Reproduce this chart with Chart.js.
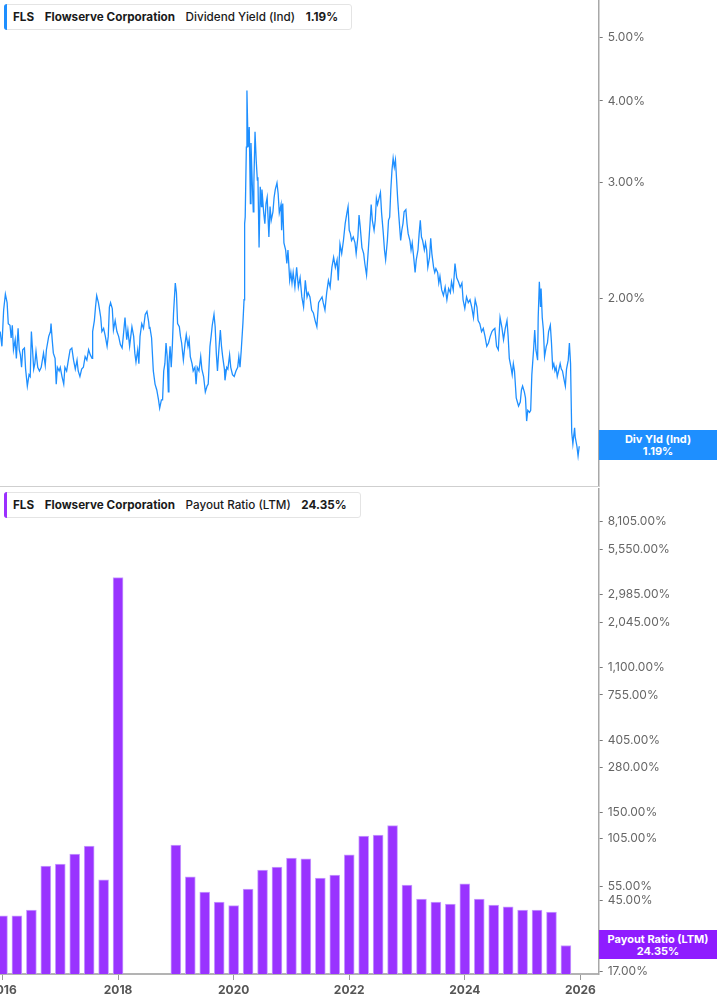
<!DOCTYPE html>
<html><head><meta charset="utf-8">
<script src="https://cdn.jsdelivr.net/npm/chart.js@4/dist/chart.umd.min.js"></script>
<style>
html,body{margin:0;padding:0;background:#fff;width:717px;height:1005px;overflow:hidden;font-family:Inter,"Noto Sans",sans-serif;}
#top{position:absolute;left:0;top:0;width:717px;height:487px;}
#bot{position:absolute;left:0;top:487px;width:717px;height:518px;}
.sep{position:absolute;left:0;top:486px;width:599px;height:1px;background:#cfcfcf;}
.legend{position:absolute;left:4px;height:26px;border:1px solid #e4e4e4;border-radius:3px;background:#fff;font-size:11.7px;color:#1a1a1a;display:flex;align-items:center;padding:0 13px 0 8px;box-sizing:border-box;white-space:nowrap;}
.legend .bar{position:absolute;left:-1px;top:-1px;bottom:-1px;width:3px;border-radius:3px 0 0 3px;}
.legend span{margin-right:10.5px;}
.legend span:last-child{margin-right:0;}
.b{font-weight:700;}
.m{font-weight:500;}
.tag{position:absolute;left:599px;width:118px;color:#fff;font-size:11px;font-weight:700;text-align:center;line-height:12px;display:flex;flex-direction:column;justify-content:center;}
</style>
</head>
<body>
<div id="top"><canvas id="c1"></canvas></div>
<div id="bot"><canvas id="c2"></canvas></div>
<div class="sep"></div>
<div class="legend" style="top:4px;"><div class="bar" style="background:#1e8fff"></div><span class="b">FLS</span><span class="b">Flowserve Corporation</span><span class="m">Dividend Yield (Ind)</span><span class="b">1.19%</span></div>
<div class="legend" style="top:492px;"><div class="bar" style="background:#9b30ff"></div><span class="b">FLS</span><span class="b">Flowserve Corporation</span><span class="m">Payout Ratio (LTM)</span><span class="b">24.35%</span></div>
<div class="tag" style="top:430px;height:30px;background:#1e8fff;"><div>Div Yld (Ind)</div><div>1.19%</div></div>
<div class="tag" style="top:930px;height:29px;background:#8f1cff;"><div>Payout Ratio (LTM)</div><div>24.35%</div></div>
<script>
const divDates = [
2015.96,2015.99,2016.02,2016.05,2016.08,2016.10,2016.13,2016.15,2016.17,2016.19,2016.22,2016.24,2016.27,2016.29,2016.31,2016.33,2016.35,2016.38,2016.40,2016.43,2016.46,2016.48,2016.50,2016.52,2016.54,2016.56,2016.58,2016.61,2016.64,2016.67,2016.71,2016.74,2016.76,2016.80,2016.83,2016.84,2016.86,2016.88,2016.91,2016.93,2016.95,2016.98,
2017.00,2017.03,2017.06,2017.08,2017.11,2017.14,2017.17,2017.20,2017.23,2017.26,2017.29,2017.31,2017.34,2017.37,2017.40,2017.43,2017.46,2017.49,2017.52,2017.55,2017.56,2017.59,2017.61,2017.63,2017.66,2017.68,2017.70,2017.72,2017.75,2017.78,2017.81,2017.83,2017.85,2017.87,2017.90,2017.92,2017.95,2017.98,
2018.01,2018.04,2018.07,2018.09,2018.12,2018.15,2018.17,2018.20,2018.22,2018.24,2018.27,2018.29,2018.31,2018.34,2018.36,2018.38,2018.41,2018.44,2018.47,2018.50,2018.53,2018.54,
2018.55,2018.58,2018.61,2018.64,2018.67,2018.70,2018.72,2018.75,2018.77,2018.79,2018.81,2018.83,2018.85,2018.87,2018.88,2018.90,2018.92,2018.94,2018.96,2018.99,
2019.01,2019.03,2019.06,2019.08,2019.10,2019.13,2019.16,2019.18,2019.21,2019.23,2019.25,2019.28,2019.30,2019.33,2019.35,2019.37,2019.40,2019.43,2019.45,2019.48,2019.51,2019.54,2019.56,2019.59,2019.61,2019.63,2019.66,2019.68,2019.70,2019.72,2019.74,2019.77,2019.79,2019.81,2019.84,2019.85,2019.88,2019.90,2019.93,2019.95,2019.98,
2020.01,2020.04,2020.07,2020.09,2020.11,2020.13,2020.16,2020.18,2020.19,2020.20,2020.22,2020.23,2020.25,2020.27,2020.29,2020.30,2020.32,2020.34,2020.35,2020.37,2020.39,2020.41,2020.42,2020.44,2020.46,2020.48,2020.49,2020.52,2020.54,2020.56,2020.58,2020.61,2020.63,2020.65,2020.68,2020.70,2020.72,2020.75,2020.77,2020.79,2020.82,2020.83,2020.85,2020.87,2020.90,2020.92,2020.94,2020.97,2020.99,
2021.01,2021.03,2021.06,2021.09,2021.12,2021.15,2021.18,2021.21,2021.24,2021.27,2021.29,2021.32,2021.35,2021.38,2021.41,2021.44,2021.47,2021.50,2021.53,2021.55,2021.58,2021.61,2021.64,2021.67,2021.70,2021.73,2021.76,2021.79,2021.81,2021.84,2021.87,2021.90,2021.93,2021.96,2021.98,
2022.00,2022.02,2022.04,2022.07,2022.10,2022.12,2022.15,2022.17,2022.19,2022.22,2022.25,2022.27,2022.30,2022.33,2022.36,2022.38,2022.40,2022.43,2022.45,2022.47,2022.49,2022.52,2022.54,2022.56,2022.59,2022.61,2022.63,2022.66,2022.68,2022.70,2022.72,2022.74,2022.76,2022.78,2022.80,2022.82,2022.84,2022.86,2022.89,2022.91,2022.93,2022.95,2022.98,
2023.00,2023.02,2023.05,2023.07,2023.09,2023.12,2023.14,2023.16,2023.19,2023.21,2023.23,2023.25,2023.27,2023.30,2023.32,2023.34,2023.36,2023.39,2023.41,2023.43,2023.46,2023.48,2023.50,2023.53,2023.55,2023.57,2023.60,2023.63,2023.66,2023.69,2023.72,2023.75,2023.77,2023.80,2023.83,2023.86,2023.89,2023.92,2023.95,2023.97,
2024.00,2024.03,2024.06,2024.09,2024.12,2024.15,2024.18,2024.21,2024.23,2024.26,2024.29,2024.32,2024.35,2024.38,2024.41,2024.44,2024.47,2024.49,2024.52,2024.55,2024.58,2024.61,2024.64,2024.67,2024.70,2024.73,2024.75,2024.77,2024.80,2024.82,2024.84,2024.86,2024.89,2024.91,2024.93,2024.96,2024.98,
2025.00,2025.03,2025.05,2025.07,2025.09,2025.12,2025.14,2025.16,2025.19,2025.21,2025.23,2025.26,2025.27,2025.29,2025.31,2025.32,2025.34,2025.36,2025.38,2025.41,2025.43,2025.45,2025.48,2025.50,2025.52,2025.54,2025.56,2025.58,2025.60,2025.63,2025.65,2025.67,2025.69,2025.72,2025.74,2025.76,2025.79,2025.81,2025.83,2025.85,2025.87,2025.90,2025.91,2025.94,2025.96,2025.98
];
const divYield = [
1.78,1.69,1.92,2.03,1.97,1.83,1.82,1.74,1.82,1.67,1.73,1.62,1.80,1.67,1.64,1.57,1.67,1.68,1.56,1.47,1.53,1.52,1.78,1.67,1.56,1.59,1.66,1.57,1.55,1.57,1.65,1.58,1.67,1.75,1.78,1.83,1.73,1.65,1.62,1.48,1.57,1.55,
1.57,1.52,1.48,1.57,1.55,1.61,1.67,1.68,1.61,1.56,1.61,1.55,1.52,1.56,1.57,1.63,1.61,1.67,1.64,1.62,1.78,1.85,1.94,2.02,1.97,1.92,1.87,1.78,1.80,1.75,1.69,1.75,1.94,1.97,1.93,1.79,1.85,1.78,
1.75,1.70,1.68,1.75,1.87,1.73,1.79,1.69,1.75,1.81,1.75,1.65,1.60,1.67,1.59,1.75,1.83,1.80,1.89,1.91,1.84,1.80,
1.81,1.74,1.55,1.48,1.45,1.40,1.36,1.40,1.40,1.55,1.59,1.71,1.63,1.44,1.59,1.69,1.57,1.70,1.90,2.11,
2.04,1.83,1.81,1.75,1.71,1.61,1.71,1.76,1.69,1.73,1.63,1.59,1.55,1.57,1.48,1.57,1.55,1.63,1.56,1.52,1.44,1.47,1.48,1.69,1.75,1.82,1.89,1.81,1.65,1.55,1.65,1.79,1.69,1.63,1.56,1.50,1.57,1.56,1.64,1.57,1.53,
1.52,1.55,1.57,1.63,1.57,1.66,1.83,1.99,2.60,2.66,3.40,4.15,3.40,3.65,2.79,3.45,3.03,2.71,3.00,3.59,3.25,3.03,3.06,2.39,2.96,2.76,2.93,2.70,2.60,2.79,2.85,2.48,2.76,2.63,2.71,2.85,2.93,3.00,2.89,2.70,2.78,2.54,2.79,2.43,2.37,2.26,2.37,2.13,2.19,
2.11,2.19,2.08,2.23,2.08,2.15,2.01,1.94,2.13,2.01,2.04,2.01,1.92,1.90,1.85,1.81,1.97,1.99,2.01,1.97,1.92,2.04,2.13,2.08,2.23,2.31,2.23,2.29,2.13,2.42,2.34,2.45,2.60,2.70,2.76,
2.54,2.51,2.45,2.48,2.43,2.34,2.48,2.68,2.57,2.39,2.34,2.26,2.17,2.37,2.60,2.78,2.63,2.54,2.63,2.84,2.78,2.85,2.90,2.70,2.51,2.37,2.29,2.45,2.63,2.66,2.93,3.14,3.27,3.17,3.25,3.03,2.82,2.66,2.45,2.54,2.60,2.71,2.73,
2.60,2.51,2.45,2.37,2.43,2.29,2.19,2.29,2.37,2.51,2.63,2.48,2.45,2.37,2.43,2.37,2.23,2.31,2.47,2.34,2.23,2.19,2.22,2.19,2.11,2.16,2.06,2.02,2.08,1.99,2.07,2.04,2.12,2.06,2.26,2.15,2.12,2.08,2.11,1.99,
1.93,2.01,1.97,1.99,1.94,1.87,1.99,1.94,1.85,1.83,1.78,1.80,1.75,1.69,1.71,1.75,1.78,1.79,1.80,1.69,1.67,1.87,1.81,1.73,1.80,1.85,1.75,1.62,1.57,1.53,1.59,1.55,1.41,1.39,1.37,1.39,1.45,
1.47,1.44,1.41,1.30,1.35,1.34,1.35,1.53,1.67,1.79,1.67,1.61,1.87,2.12,1.94,2.07,1.87,1.79,1.63,1.69,1.71,1.78,1.82,1.71,1.57,1.59,1.55,1.57,1.52,1.56,1.59,1.56,1.55,1.50,1.47,1.56,1.61,1.71,1.59,1.25,1.20,1.27,1.23,1.19,1.15,1.19
];
const payoutQuarters = [
2016.00,2016.25,2016.50,2016.75,2017.00,2017.25,2017.50,2017.75,2018.00,2018.25,2018.50,2018.75,
2019.00,2019.25,2019.50,2019.75,2020.00,2020.25,2020.50,2020.75,2021.00,2021.25,2021.50,2021.75,
2022.00,2022.25,2022.50,2022.75,2023.00,2023.25,2023.50,2023.75,2024.00,2024.25,2024.50,2024.75,
2025.00,2025.25,2025.50,2025.75
];
const payoutRatio = [
36.5,36.5,39.6,72.4,74.4,85.3,95.2,59.8,3764,null,null,null,
96.5,62.3,50.6,44.2,42.0,52.8,68.5,71.4,80.7,79.7,61.4,64.0,
84.2,109.2,110.7,125.8,55.8,46.0,44.2,43.0,56.6,46.0,42.4,41.3,
39.6,39.6,38.5,24.35
];
const yieldTicks = [2,3,4,5];
const payoutTicks = [17,25,45,55,105,150,280,405,755,1100,2045,2985,5550,8105];
const yearTicks = [2016,2018,2020,2022,2024,2026];

const X_MIN = 2015.957, X_MAX = 2026.317;
const AXIS_W = 118.3;

function yAxisCommon(ticksArr, fmt){
  return {
    type:'logarithmic', position:'right',
    grid:{display:true, drawOnChartArea:false, drawTicks:true, tickLength:4, color:'#777', tickWidth:1},
    border:{display:true, color:'#a8a8a8', width:1.5},
    ticks:{autoSkip:false, padding:5, color:'#666', font:{family:'Inter', size:12}, callback:fmt},
    afterBuildTicks:s=>{ s.ticks = ticksArr.map(v=>({value:v})); },
    afterFit:s=>{ s.width = AXIS_W; s.paddingTop = 0; s.paddingBottom = 0; }
  };
}

new Chart(document.getElementById('c1'), {
  type:'line',
  data:{datasets:[{
    data: divDates.map((d,i)=>({x:d, y:divYield[i]})),
    borderColor:'#1e8fff', borderWidth:1.3, pointRadius:0, tension:0, fill:false
  }]},
  options:{
    responsive:true, maintainAspectRatio:false, animation:false,
    layout:{padding:{left:0,right:0,top:0,bottom:1}},
    plugins:{legend:{display:false}, tooltip:{enabled:false}},
    scales:{
      x:{type:'linear', min:X_MIN, max:X_MAX, display:false},
      y:Object.assign(yAxisCommon(yieldTicks, v=>Number(v).toFixed(2)+'%'), {min:1.035, max:5.70})
    }
  }
});

new Chart(document.getElementById('c2'), {
  type:'bar',
  data:{datasets:[{
    data: payoutQuarters.map((d,i)=>({x:d, y:payoutRatio[i]})),
    backgroundColor:'#9933ff', borderColor:'#c9a0ff', borderWidth:{top:1,left:1,right:1,bottom:0},
    barThickness:10
  }]},
  options:{
    responsive:true, maintainAspectRatio:false, animation:false,
    layout:{padding:{left:0,right:0,top:2,bottom:0}},
    plugins:{legend:{display:false}, tooltip:{enabled:false}},
    scales:{
      x:{type:'linear', min:X_MIN, max:X_MAX, offset:false,
        grid:{display:true, offset:false, drawOnChartArea:false, drawTicks:true, tickLength:6, color:'#999'},
        border:{display:true, color:'#b3b3b3', width:2},
        ticks:{autoSkip:false, maxRotation:0, padding:3, color:'#555', font:{family:'Inter', size:12, weight:'bold'}, callback:v=>String(v)},
        afterBuildTicks:s=>{ s.ticks = yearTicks.map(v=>({value:v})); },
        afterFit:s=>{ s.paddingLeft = 0; s.paddingRight = 0; s.height = 31; }
      },
      y:Object.assign(yAxisCommon(payoutTicks, v=>Number(v).toLocaleString('en-US',{minimumFractionDigits:2,maximumFractionDigits:2})+'%'), {min:16.47, max:12690})
    }
  }
});
</script>
</body></html>
